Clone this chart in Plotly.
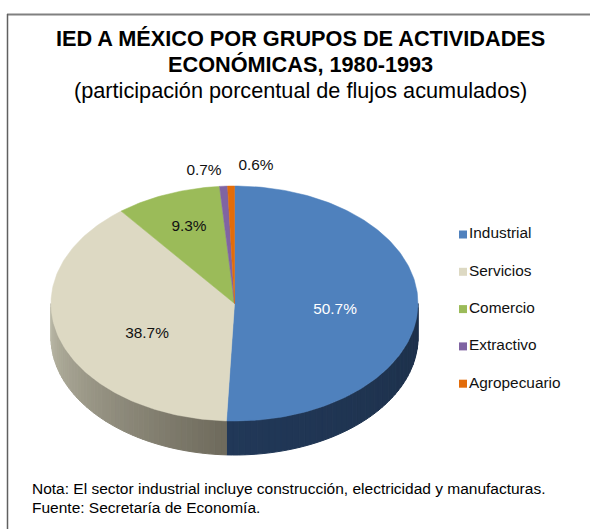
import math
import plotly.graph_objects as go

categories = ["Industrial", "Servicios", "Comercio", "Extractivo", "Agropecuario"]
shares = [50.7, 38.7, 9.3, 0.7, 0.6]
labels = ["50.7%", "38.7%", "9.3%", "0.7%", "0.6%"]
colors = ["#4F81BD", "#DDD9C3", "#9BBB59", "#8064A2", "#E36C09"]
wall_start = [(29, 48, 74), (110, 106, 92)]
wall_end = [(33, 56, 88), (186, 184, 166)]

CX, CY, RX, RY, DEPTH = 234.5, 303.5, 183.5, 117.5, 34
W, H = 590, 529
total = sum(shares)


def pt(theta, dy=0.0):
    return CX + RX * math.sin(theta), CY - RY * math.cos(theta) + dy


fig = go.Figure()
cum = [0.0]
for s in shares:
    cum.append(cum[-1] + s)
angles = [2 * math.pi * c / total for c in cum]

# side wall (visible lower half only), drawn as shaded strips
N = 48
for i in (0, 1):
    a0 = max(angles[i], math.pi / 2)
    a1 = min(angles[i + 1], 3 * math.pi / 2)
    for k in range(N):
        t0 = a0 + (a1 - a0) * k / N
        t1 = a0 + (a1 - a0) * (k + 1) / N
        f = (k + 0.5) / N
        c0, c1 = wall_start[i], wall_end[i]
        col = "rgb(%d,%d,%d)" % tuple(round(c0[j] + (c1[j] - c0[j]) * f) for j in range(3))
        p = [pt(t0), pt(t1), pt(t1, DEPTH), pt(t0, DEPTH), pt(t0)]
        fig.add_trace(go.Scatter(x=[q[0] for q in p], y=[q[1] for q in p], mode="lines",
                                 fill="toself", fillcolor=col, line=dict(color=col, width=1),
                                 hoverinfo="skip", showlegend=False))

# top face
for i, cat in enumerate(categories):
    n = max(2, int((angles[i + 1] - angles[i]) * 60))
    p = [(CX, CY)] + [pt(angles[i] + (angles[i + 1] - angles[i]) * k / n) for k in range(n + 1)] + [(CX, CY)]
    fig.add_trace(go.Scatter(x=[q[0] for q in p], y=[q[1] for q in p], mode="lines", fill="toself",
                             fillcolor=colors[i], line=dict(color=colors[i], width=0.5),
                             name=cat, showlegend=False, hoverinfo="name"))

# legend
leg_y = [234.5 + 37.3 * i for i in range(len(categories))]
fig.add_trace(go.Scatter(x=[463] * len(categories), y=leg_y, mode="markers+text",
                         marker=dict(symbol="square", size=8, color=colors),
                         text=categories, textposition="middle right",
                         textfont=dict(family="Liberation Sans", size=15.4, color="#111111"),
                         hoverinfo="skip", showlegend=False))

# value labels
lab_x = [335, 147, 189, 204, 256]
lab_y = [310, 334, 227, 171, 166]
lab_col = ["white", "#111111", "#111111", "#111111", "#111111"]
fig.add_trace(go.Scatter(x=lab_x, y=lab_y, mode="text", text=labels,
                         textfont=dict(family="Liberation Sans", size=15.4, color=lab_col),
                         hoverinfo="skip", showlegend=False))


def note(x, y, text, size, anchor="center", weight="normal"):
    fig.add_annotation(x=x, y=y, xref="x", yref="y", text=text, showarrow=False, xanchor=anchor,
                       yanchor="middle", align=anchor if anchor != "center" else "center",
                       font=dict(family="Liberation Sans", size=size, color="#000000", weight=weight))


note(300.5, 38, "IED A MÉXICO POR GRUPOS DE ACTIVIDADES", 21.7, weight="bold")
note(300.5, 64, "ECONÓMICAS, 1980-1993", 21.7, weight="bold")
note(300.5, 90, "(participación porcentual de flujos acumulados)", 21.7)
note(30, 488, "Nota: El sector industrial incluye construcción, electricidad y manufacturas.", 15.5, "left")
note(30, 507, "Fuente: Secretaría de Economía.", 15.5, "left")

fig.update_layout(
    width=W, height=H, margin=dict(l=0, r=0, t=0, b=0), paper_bgcolor="white", plot_bgcolor="white",
    xaxis=dict(range=[0, W], visible=False, fixedrange=True),
    yaxis=dict(range=[H, 0], visible=False, fixedrange=True),
    shapes=[dict(type="line", xref="x", yref="y", x0=7, y0=14.5, x1=W, y1=14.5,
                 line=dict(color="#808080", width=2), layer="below"),
            dict(type="line", xref="x", yref="y", x0=7.5, y0=14, x1=7.5, y1=H,
                 line=dict(color="#606060", width=1.5), layer="below")],
)
fig.write_html("out.html", config={"displayModeBar": False},
               post_script="document.body.style.margin='0';document.documentElement.style.overflow='hidden';")
